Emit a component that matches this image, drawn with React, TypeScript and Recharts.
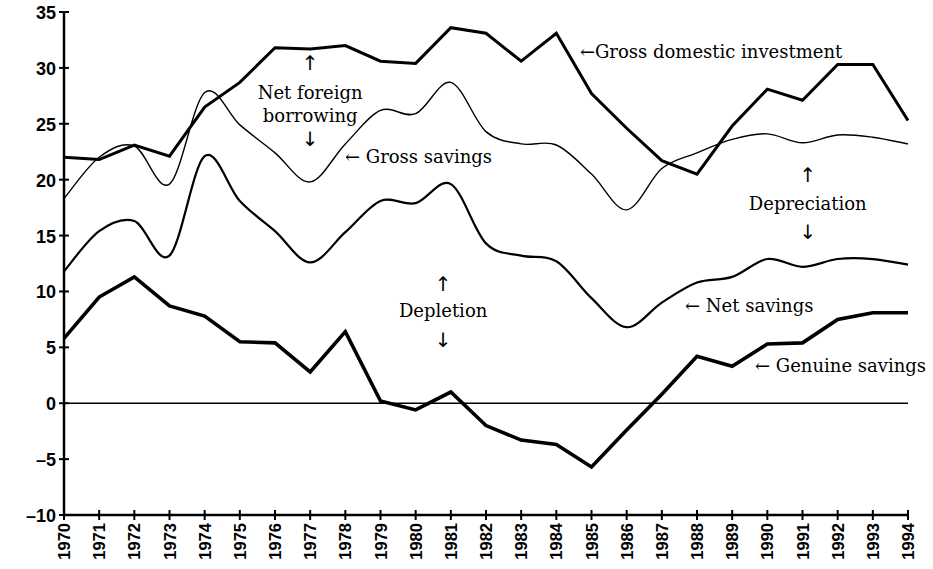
import { LineChart, Line, XAxis, YAxis, ReferenceLine, ReferenceDot } from "recharts";

const YEARS = [
  1970, 1971, 1972, 1973, 1974, 1975, 1976, 1977, 1978, 1979, 1980, 1981, 1982,
  1983, 1984, 1985, 1986, 1987, 1988, 1989, 1990, 1991, 1992, 1993, 1994,
];
const GROSS_INVESTMENT = [
  22.0, 21.8, 23.1, 22.1, 26.5, 28.7, 31.8, 31.7, 32.0, 30.6, 30.4, 33.6, 33.1,
  30.6, 33.1, 27.7, 24.6, 21.7, 20.5, 24.8, 28.1, 27.1, 30.3, 30.3, 25.3,
];
const GROSS_SAVINGS = [
  18.3, 22.0, 23.0, 19.6, 27.8, 24.9, 22.4, 19.8, 23.2, 26.2, 25.9, 28.7, 24.3,
  23.2, 23.1, 20.5, 17.3, 21.0, 22.4, 23.6, 24.1, 23.3, 24.0, 23.8, 23.2,
];
const NET_SAVINGS = [
  11.8, 15.4, 16.3, 13.2, 22.1, 18.1, 15.4, 12.6, 15.3, 18.1, 17.9, 19.6, 14.3,
  13.2, 12.7, 9.4, 6.8, 9.0, 10.8, 11.3, 12.9, 12.2, 12.9, 12.9, 12.4,
];
const GENUINE_SAVINGS = [
  5.8, 9.5, 11.3, 8.7, 7.8, 5.5, 5.4, 2.8, 6.4, 0.2, -0.6, 1.0, -2.0,
  -3.3, -3.7, -5.7, -2.4, 0.8, 4.2, 3.3, 5.3, 5.4, 7.5, 8.1, 8.1,
];
const Y_TICKS = [-10, -5, 0, 5, 10, 15, 20, 25, 30, 35];

// annotation texts, placed in data coordinates (year, value)
const NOTE_TEXT = [
  "←Gross domestic investment",
  "↑", "Net foreign", "borrowing", "↓",
  "← Gross savings",
  "↑", "Depreciation", "↓",
  "↑", "Depletion", "↓",
  "← Net savings",
  "← Genuine savings",
];
const NOTE_YEAR = [
  1984.67,
  1977.0, 1977.0, 1977.0, 1977.0,
  1977.99,
  1991.15, 1991.15, 1991.15,
  1980.78, 1980.78, 1980.78,
  1987.66,
  1989.65,
];
const NOTE_VALUE = [
  31.5,
  30.4, 27.8, 25.7, 23.6,
  22.1,
  20.4, 17.9, 15.3,
  10.7, 8.3, 5.7,
  8.75,
  3.4,
];
const NOTE_ANCHOR = [
  "start",
  "middle", "middle", "middle", "middle",
  "start",
  "middle", "middle", "middle",
  "middle", "middle", "middle",
  "start",
  "start",
];

const data = YEARS.map((year, i) => ({
  year,
  gdi: GROSS_INVESTMENT[i],
  gross: GROSS_SAVINGS[i],
  net: NET_SAVINGS[i],
  genuine: GENUINE_SAVINGS[i],
}));

const TICK_FONT = { fontFamily: "'Liberation Sans', Arial, sans-serif", fontWeight: 700 };
const NOTE_FONT = "'DejaVu Serif', serif";

// Catmull-Rom style smoothing (like a spreadsheet "smoothed line")
function smoothCurve(context: any) {
  let pts: number[][] = [];
  return {
    areaStart() {},
    areaEnd() {},
    lineStart() {
      pts = [];
    },
    point(x: number, y: number) {
      pts.push([+x, +y]);
    },
    lineEnd() {
      if (!pts.length) return;
      context.moveTo(pts[0][0], pts[0][1]);
      for (let i = 0; i < pts.length - 1; i++) {
        const p0 = pts[i - 1] || pts[i];
        const p1 = pts[i];
        const p2 = pts[i + 1];
        const p3 = pts[i + 2] || pts[i + 1];
        context.bezierCurveTo(
          p1[0] + (p2[0] - p0[0]) / 6,
          p1[1] + (p2[1] - p0[1]) / 6,
          p2[0] - (p3[0] - p1[0]) / 6,
          p2[1] - (p3[1] - p1[1]) / 6,
          p2[0],
          p2[1]
        );
      }
    },
  };
}

function YTick({ x, y, payload }: any) {
  return (
    <g>
      <line x1={x - 5} x2={x + 5} y1={y} y2={y} stroke="#000" strokeWidth={2} />
      <text x={x - 8} y={y + 1} textAnchor="end" dominantBaseline="central" fontSize={18} fill="#000" style={TICK_FONT}>
        {payload.value < 0 ? `–${Math.abs(payload.value)}` : payload.value}
      </text>
    </g>
  );
}

function XTick({ x, y, payload }: any) {
  return (
    <g>
      <line x1={x} x2={x} y1={y - 5} y2={y + 5} stroke="#000" strokeWidth={2} />
      <text
        x={x}
        y={y + 8}
        transform={`rotate(-90 ${x} ${y + 8})`}
        textAnchor="end"
        dominantBaseline="central"
        fontSize={16.5}
        fill="#000"
        style={TICK_FONT}
      >
        {payload.value}
      </text>
    </g>
  );
}

function noteShape(i: number) {
  const isArrow = NOTE_TEXT[i] === "↑" || NOTE_TEXT[i] === "↓";
  return ({ cx, cy }: any) => (
    <text
      x={cx}
      y={cy}
      textAnchor={NOTE_ANCHOR[i] as any}
      dominantBaseline="central"
      fontSize={isArrow ? 20 : 18}
      fontFamily={isArrow ? "'DejaVu Sans', sans-serif" : NOTE_FONT}
      fill="#000"
    >
      {NOTE_TEXT[i]}
    </text>
  );
}

export default function App() {
  return (
    <div style={{ width: 933, height: 569, background: "#fff" }}>
      <style>{"body{margin:0}"}</style>
      <LineChart
        width={933}
        height={569}
        data={data}
        margin={{ top: 12, right: 25, left: 0, bottom: 0 }}
      >
        <XAxis
          dataKey="year"
          type="number"
          domain={[1970, 1994]}
          ticks={YEARS}
          interval={0}
          height={54}
          tickSize={0}
          tickMargin={0}
          tickLine={false}
          axisLine={{ stroke: "#000", strokeWidth: 2.5 }}
          tick={<XTick />}
        />
        <YAxis
          type="number"
          domain={[-10, 35]}
          ticks={Y_TICKS}
          interval={0}
          width={64}
          tickSize={0}
          tickMargin={0}
          tickLine={false}
          axisLine={{ stroke: "#000", strokeWidth: 2.5 }}
          tick={<YTick />}
        />
        <ReferenceLine y={0} stroke="#000" strokeWidth={1.5} />
        <Line dataKey="gross" type={smoothCurve as any} stroke="#000" strokeWidth={1.4} dot={false} isAnimationActive={false} />
        <Line dataKey="net" type={smoothCurve as any} stroke="#000" strokeWidth={2.2} dot={false} isAnimationActive={false} />
        <Line dataKey="gdi" type="linear" stroke="#000" strokeWidth={3} dot={false} isAnimationActive={false} />
        <Line dataKey="genuine" type="linear" stroke="#000" strokeWidth={3.6} dot={false} isAnimationActive={false} />
        {NOTE_TEXT.map((_, i) => (
          <ReferenceDot
            key={i}
            x={NOTE_YEAR[i]}
            y={NOTE_VALUE[i]}
            r={0}
            ifOverflow="visible"
            shape={noteShape(i)}
          />
        ))}
      </LineChart>
    </div>
  );
}
